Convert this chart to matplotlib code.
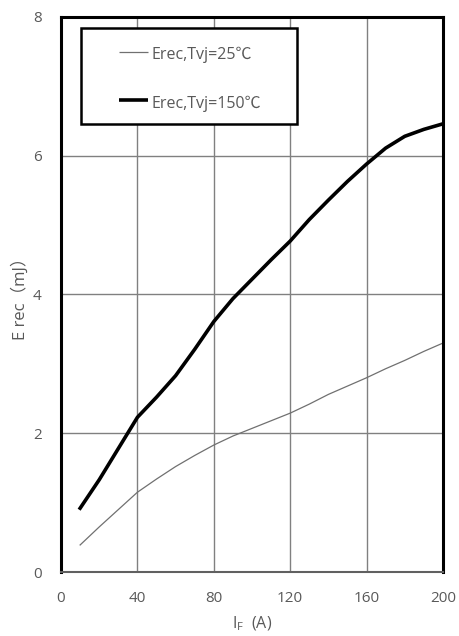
import matplotlib
matplotlib.use("Agg")
import matplotlib.pyplot as plt
from matplotlib.patches import Rectangle

plt.rcParams['font.family'] = ['Open Sans', 'Noto Sans CJK SC', 'DejaVu Sans']

# data
if_pts = [10, 20, 30, 40, 50, 60, 70, 80, 90, 100,
          110, 120, 130, 140, 150, 160, 170, 180, 190, 200]
erec_25 = [0.39, 0.65, 0.90, 1.15, 1.34, 1.52, 1.68, 1.83, 1.96, 2.07,
           2.18, 2.29, 2.42, 2.56, 2.68, 2.80, 2.93, 3.05, 3.18, 3.30]
erec_150 = [0.92, 1.33, 1.78, 2.23, 2.52, 2.83, 3.21, 3.61, 3.94, 4.22,
            4.50, 4.77, 5.08, 5.36, 5.63, 5.88, 6.11, 6.28, 6.38, 6.46]
labels = ["Erec,Tvj=25℃", "Erec,Tvj=150℃"]
xticks = [0, 40, 80, 120, 160, 200]
yticks = [0, 2, 4, 6, 8]

gray_txt = "#595959"

fig = plt.figure(figsize=(4.59, 6.36), dpi=100)
ax = fig.add_axes([0.133, 0.1006, 0.832, 0.8727])

l1, = ax.plot(if_pts, erec_25, color="#707070", lw=0.9)
l2, = ax.plot(if_pts, erec_150, color="black", lw=2.6)

ax.set_xlim(0, 200)
ax.set_ylim(0, 8)
ax.set_xticks(xticks)
ax.set_yticks(yticks)
ax.grid(True, color="#808080", lw=1.0)
ax.tick_params(length=0, labelsize=11, labelcolor=gray_txt)
ax.tick_params(axis="x", pad=14)
ax.tick_params(axis="y", pad=14)

for s in ["left", "top", "right"]:
    ax.spines[s].set_linewidth(2.2)
    ax.spines[s].set_color("black")
ax.spines["bottom"].set_linewidth(1.5)
ax.spines["bottom"].set_color("#606060")

ax.set_xlabel("I$_\\mathregular{F}$  (A)", fontsize=11.5, color=gray_txt, labelpad=6)
ax.set_ylabel("E rec（mJ）", fontsize=12, color=gray_txt, labelpad=3)

# legend box drawn by hand to match the original layout
box = Rectangle((0.052, 0.807), 0.565, 0.173, transform=ax.transAxes,
                facecolor="white", edgecolor="black", lw=1.8, zorder=5)
ax.add_patch(box)
for line, lab, yy in [(l1, labels[0], 0.937), (l2, labels[1], 0.850)]:
    ax.plot([0.152, 0.228], [yy, yy], transform=ax.transAxes,
            color=line.get_color(), lw=line.get_linewidth(), zorder=6,
            solid_capstyle="butt")
    ax.text(0.238, yy - 0.006, lab, transform=ax.transAxes, fontsize=11.5,
            color=gray_txt, va="center", ha="left", zorder=6)

fig.savefig("out.png", dpi=100)
